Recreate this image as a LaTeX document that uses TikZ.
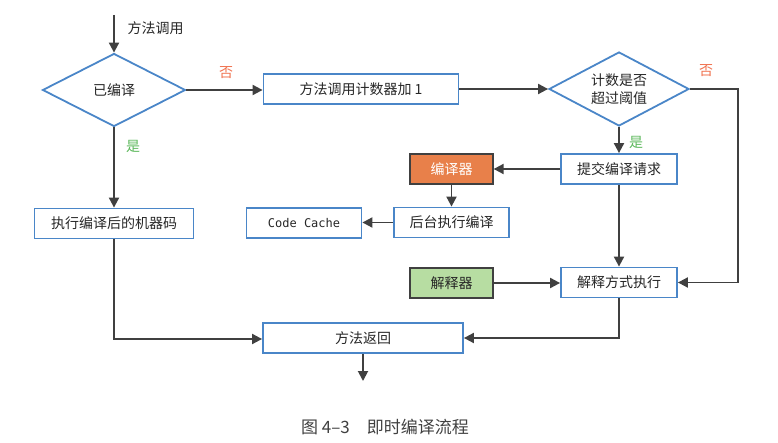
\documentclass[tikz,border=0pt]{standalone}
\usepackage{fontspec}
\newfontfamily\cjk{Noto Sans CJK SC}
\newfontfamily\codefont{DejaVu Sans Mono}
\usetikzlibrary{shapes.geometric,arrows.meta}
\definecolor{bleu}{HTML}{4A86C8}
\definecolor{gris}{HTML}{404040}
\definecolor{orange}{HTML}{E8804A}
\definecolor{vert}{HTML}{B7DDA2}
\definecolor{non}{HTML}{F0724F}
\definecolor{oui}{HTML}{5DB85C}
\tikzset{
  boite/.style={draw=bleu, line width=1.8pt, rectangle, minimum height=30pt, inner sep=0pt},
  losange/.style={draw=bleu, line width=1.8pt, diamond, aspect=1.9, inner sep=0pt, align=center},
  outil/.style={draw=gris, line width=1.3pt, rectangle, minimum width=83pt, minimum height=30pt, inner sep=0pt},
  fleche/.style={draw=gris, line width=1.9pt, -{Triangle[length=10pt,width=10pt]}}
}

\begin{document}
\begin{tikzpicture}[x=1pt, y=-1pt, font=\cjk\fontsize{14}{18}\selectfont, text=black!85]
\useasboundingbox (0,0) rectangle (778,443);

%Boites
\coordinate (debut) at (114,15);
\node[anchor=west] (appel) at (124,28) {方法调用};
\node[losange, minimum width=143pt, minimum height=73pt] (compile) at (114,90) {已编译};
\node[boite, minimum width=195pt] (compteur) at (361,89) {方法调用计数器加 1};
\node[losange, minimum width=140pt, minimum height=74pt] (seuil) at (619,89) {计数是否\\超过阈值};
\node[boite, minimum width=116pt] (requete) at (619,169) {提交编译请求};
\node[outil, fill=orange, text=white] (compilo) at (451.5,169) {编译器};
\node[boite, minimum width=115pt] (fond) at (451.5,222.5) {后台执行编译};
\node[boite, minimum width=115pt, font=\codefont\fontsize{12}{14}\selectfont] (cache) at (304,223) {Code Cache};
\node[boite, minimum width=159pt] (machine) at (114,223.5) {执行编译后的机器码};
\node[boite, minimum width=116pt] (interprete) at (619,282.5) {解释方式执行};
\node[outil, fill=vert] (interpreteur) at (451.5,283) {解释器};
\node[boite, minimum width=200pt] (retour) at (363,338) {方法返回};
\coordinate (fin) at (363,381);
\coordinate (coin) at (738,89);

%Etiquettes
\node[text=non] (non1) at (226,73) {否};
\node[text=non] (non2) at (706,71) {否};
\node[text=oui] (oui1) at (133,146) {是};
\node[text=oui] (oui2) at (636,142) {是};

%Fleches
\draw[fleche] (debut) -- (compile.north);
\draw[fleche] (compile.east) -- (compile.east -| compteur.west);
\draw[fleche] (compteur.east) -- (seuil.west);
\draw[fleche] (seuil.east) -- (coin) |- (interprete.east);
\draw[fleche] (seuil.south) -- (requete.north);
\draw[fleche] (requete.west) -- (compilo.east);
\draw[fleche] (compilo.south) -- (fond.north);
\draw[fleche] (fond.west) -- (fond.west -| cache.east);
\draw[fleche] (requete.south) -- (interprete.north);
\draw[fleche] (interpreteur.east) -- (interpreteur.east -| interprete.west);
\draw[fleche] (interprete.south) |- (retour.east);
\draw[fleche] (compile.south) -- (machine.north);
\draw[fleche] (machine.south) |- ([yshift=-1pt]retour.west);
\draw[fleche] (retour.south) -- (fin);

%Legende
\node[font=\cjk\fontsize{17}{20}\selectfont, text=black!75] (legende) at (385,427) {图 4–3\quad 即时编译流程};
\end{tikzpicture}
\end{document}
